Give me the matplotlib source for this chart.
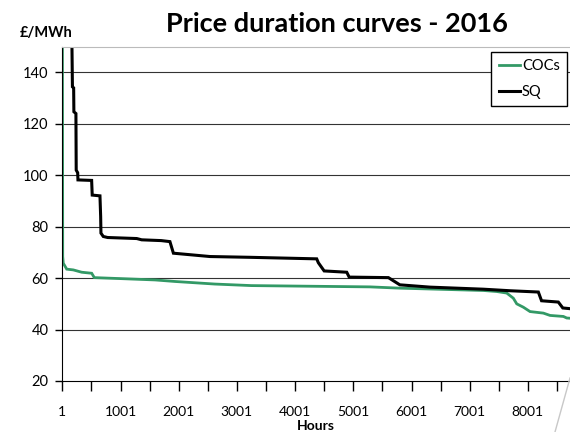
import matplotlib
matplotlib.use("Agg")
import matplotlib.pyplot as plt
from matplotlib.lines import Line2D

plt.rcParams['font.family'] = ['Lato', 'DejaVu Sans']

# 价格持续曲线 (小时, £/MWh)
sq_hours = [1, 150, 167, 175, 196, 200, 235, 240, 265, 270, 505, 515, 648, 660, 665,
            705, 780, 1280, 1365, 1700, 1850, 1910, 2539, 3226, 4372, 4400, 4500,
            4888, 4930, 5604, 5800, 6319, 7235, 7693, 8180, 8235, 8523, 8600, 8784]
sq_price = [250, 160, 150, 134.4, 134, 124.7, 124, 102, 101, 98.2, 98, 92.3, 92, 84, 77.5,
            76.2, 75.8, 75.4, 74.9, 74.6, 74.2, 69.7, 68.4, 68.1, 67.5, 66.0, 62.8,
            62.3, 60.4, 60.2, 57.4, 56.5, 55.7, 55.1, 54.6, 51.2, 50.7, 48.4, 48.0]

coc_hours = [1, 3, 8, 18, 77, 190, 334, 506, 551, 1022, 1594, 1938, 2622, 3250, 5288,
             5803, 7235, 7465, 7637, 7750, 7809, 7922, 8037, 8266, 8381, 8610, 8668, 8784]
coc_price = [250, 150, 68.4, 65.8, 63.5, 63.2, 62.3, 61.9, 60.2, 59.8, 59.3, 58.7, 57.7, 57.1, 56.6,
             56.1, 55.2, 54.8, 54.2, 52.2, 50.0, 48.7, 47.0, 46.4, 45.5, 45.1, 44.5, 44.3]

y_ticks = [20, 40, 60, 80, 100, 120, 140]
x_labels = ['1', '1001', '2001', '3001', '4001', '5001', '6001', '7001', '8001']

fig = plt.figure(figsize=(5.7, 4.32), dpi=100)
ax = fig.add_axes([62.3 / 570, 1 - 381 / 432, 511.2 / 570, (381 - 46.7) / 432])

ax.plot(coc_hours, coc_price, color='#339966', lw=2.0, label='COCs', solid_joinstyle='miter')
ax.plot(sq_hours, sq_price, color='black', lw=2.2, label='SQ', solid_joinstyle='miter')

ax.set_xlim(1, 8784)
ax.set_ylim(20, 150)

# 网格线
for v in y_ticks[1:]:
    ax.axhline(v, color='#333333', lw=0.8, zorder=0)

ax.set_yticks(y_ticks)
ax.set_yticklabels([str(v) for v in y_ticks])
xt = list(range(1, 8784, 500))
ax.set_xticks(xt)
ax.set_xticklabels([x_labels[i // 2] if i % 2 == 0 else '' for i in range(len(xt))])

ax.tick_params(axis='y', direction='out', length=5, width=1, pad=5, labelsize=10.5)
ax.tick_params(axis='x', direction='out', length=7, width=1, pad=11, labelsize=10)

ax.spines['left'].set_color('black')
ax.spines['bottom'].set_color('black')
ax.spines['top'].set_color('#bbbbbb')
ax.spines['right'].set_color('#bbbbbb')

fig.text(337 / 570, 1 - 24 / 432, 'Price duration curves - 2016', ha='center', va='center',
         fontsize=19.5, fontweight='bold')
fig.text(20 / 570, 1 - 33 / 432, '£/MWh', ha='left', va='center', fontsize=10.5, fontweight='bold')
fig.text(316 / 570, 1 - 426 / 432, 'Hours', ha='center', va='center', fontsize=10, fontweight='bold')

leg = ax.legend(loc='upper right', bbox_to_anchor=(567 / 570, 1 - 52 / 432),
                bbox_transform=fig.transFigure, frameon=True, fancybox=False,
                borderaxespad=0, borderpad=0.5, labelspacing=0.8, handlelength=1.5,
                handletextpad=0.1, fontsize=10.5)
leg.get_frame().set_edgecolor('black')
leg.get_frame().set_linewidth(1)
leg.get_frame().set_alpha(1)

# 右下角装饰线
fig.add_artist(Line2D([570 / 570, 555 / 570], [1 - 378 / 432, 0], transform=fig.transFigure,
                      color='#c8c8c8', lw=1))

fig.savefig('out.png', dpi=100)
